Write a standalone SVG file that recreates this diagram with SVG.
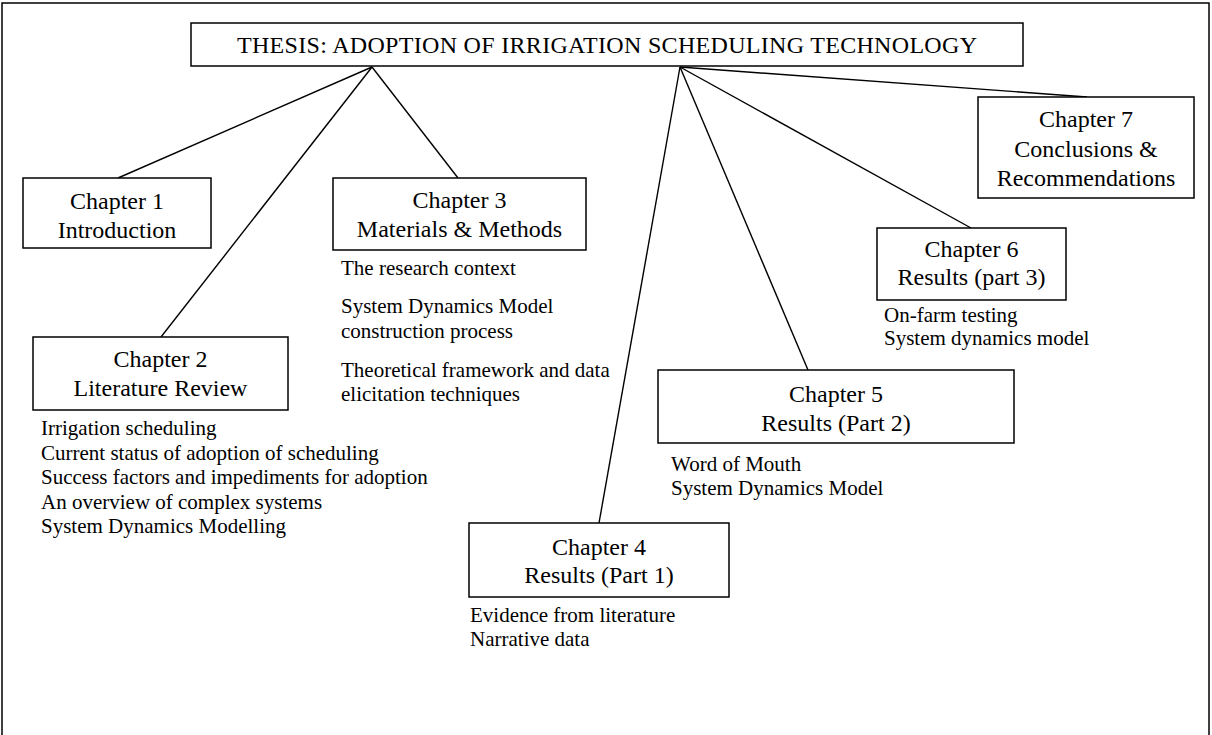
<svg xmlns="http://www.w3.org/2000/svg" width="1212" height="735" viewBox="0 0 1212 735">
<style>
.box{fill:#fff;stroke:#000;stroke-width:1.5}
.hd{font-family:"Liberation Serif","Times New Roman",serif;font-size:24px;fill:#000;text-anchor:middle}
.it{font-family:"Liberation Serif","Times New Roman",serif;font-size:21px;fill:#000}
.cn line{stroke:#000;stroke-width:1.4}
</style>
<rect x="2" y="3" width="1207" height="745" fill="#fff" stroke="#000" stroke-width="1.5"/>
<g class="cn" id="connectors">
<line x1="372" y1="67" x2="118" y2="178"/>
<line x1="372" y1="67" x2="161" y2="337"/>
<line x1="372" y1="67" x2="458" y2="178"/>
<line x1="680" y1="67" x2="599" y2="523"/>
<line x1="680" y1="67" x2="808" y2="370"/>
<line x1="680" y1="67" x2="971" y2="228"/>
<line x1="680" y1="67" x2="1087" y2="97"/>
</g>
<g id="title">
<rect class="box" x="191" y="23" width="832" height="43"/>
<text class="hd" x="607" y="53" textLength="740" lengthAdjust="spacing">THESIS: ADOPTION OF IRRIGATION SCHEDULING TECHNOLOGY</text>
</g>
<g id="ch1">
<rect class="box" x="23" y="178" width="188" height="70"/>
<text class="hd" x="117" y="209">Chapter 1</text>
<text class="hd" x="117" y="238">Introduction</text>
</g>
<g id="ch2">
<rect class="box" x="33" y="337" width="255" height="73"/>
<text class="hd" x="160.5" y="367">Chapter 2</text>
<text class="hd" x="160.5" y="396">Literature Review</text>
<text class="it" x="41" y="435">Irrigation scheduling</text>
<text class="it" x="41" y="459.5">Current status of adoption of scheduling</text>
<text class="it" x="41" y="484">Success factors and impediments for adoption</text>
<text class="it" x="41" y="508.5">An overview of complex systems</text>
<text class="it" x="41" y="533">System Dynamics Modelling</text>
</g>
<g id="ch3">
<rect class="box" x="333" y="178" width="253" height="72"/>
<text class="hd" x="459.5" y="208">Chapter 3</text>
<text class="hd" x="459.5" y="237">Materials &amp; Methods</text>
<text class="it" x="341" y="275">The research context</text>
<text class="it" x="341" y="313">System Dynamics Model</text>
<text class="it" x="341" y="338">construction process</text>
<text class="it" x="341" y="377">Theoretical framework and data</text>
<text class="it" x="341" y="401">elicitation techniques</text>
</g>
<g id="ch4">
<rect class="box" x="469" y="523" width="260" height="74"/>
<text class="hd" x="599" y="555">Chapter 4</text>
<text class="hd" x="599" y="583">Results (Part 1)</text>
<text class="it" x="470" y="622">Evidence from literature</text>
<text class="it" x="470" y="646">Narrative data</text>
</g>
<g id="ch5">
<rect class="box" x="658" y="370" width="356" height="73"/>
<text class="hd" x="836" y="402">Chapter 5</text>
<text class="hd" x="836" y="431">Results (Part 2)</text>
<text class="it" x="671" y="471">Word of Mouth</text>
<text class="it" x="671" y="495">System Dynamics Model</text>
</g>
<g id="ch6">
<rect class="box" x="877" y="228" width="189" height="72"/>
<text class="hd" x="971.5" y="257">Chapter 6</text>
<text class="hd" x="971.5" y="285">Results (part 3)</text>
<text class="it" x="884" y="322">On-farm testing</text>
<text class="it" x="884" y="345">System dynamics model</text>
</g>
<g id="ch7">
<rect class="box" x="978" y="97" width="216" height="101"/>
<text class="hd" x="1086" y="127">Chapter 7</text>
<text class="hd" x="1086" y="157">Conclusions &amp;</text>
<text class="hd" x="1086" y="186">Recommendations</text>
</g>
</svg>
